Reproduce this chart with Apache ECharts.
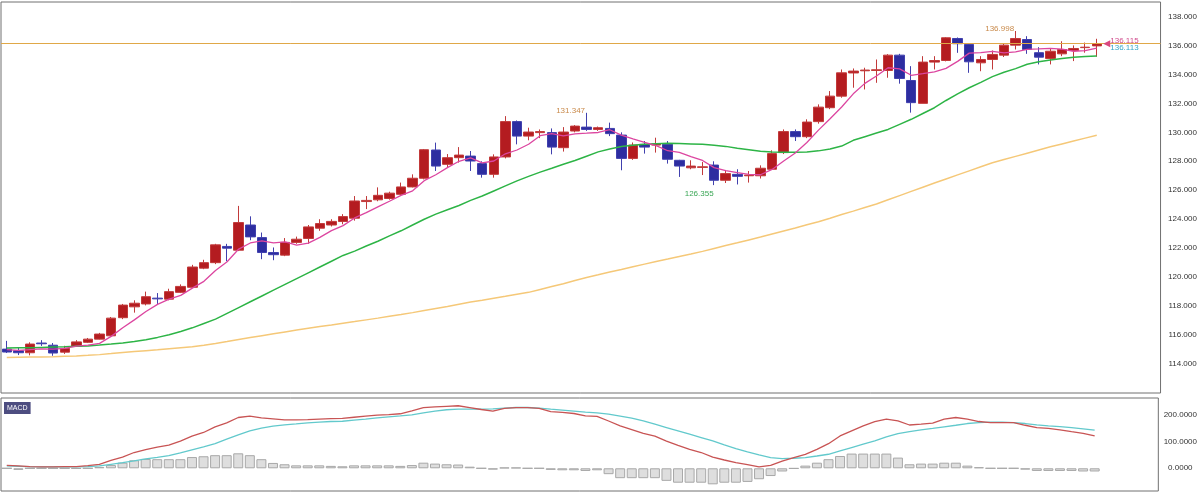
<!DOCTYPE html>
<html><head><meta charset="utf-8">
<script src="https://cdn.jsdelivr.net/npm/echarts@6/dist/echarts.min.js"></script>
<style>html,body{margin:0;padding:0;background:#fff}#c{width:1200px;height:494px}</style>
</head><body><div id="c"></div>
<script>
// ---- data ----
const opens = [115.03,114.92,114.78,115.45,115.30,114.82,115.22,115.50,115.72,115.95,
117.20,117.95,118.15,118.55,118.48,118.95,119.30,120.62,121.00,122.12,
121.86,123.60,122.73,121.70,121.52,122.40,122.67,123.38,123.60,123.84,
124.07,125.22,125.34,125.43,125.72,126.23,126.83,128.78,127.79,128.25,
128.36,127.84,127.10,128.30,130.74,129.74,129.98,129.98,128.94,130.09,
130.36,130.20,130.27,129.81,128.20,129.17,129.12,129.17,128.07,127.55,
127.58,127.74,126.69,127.10,127.00,127.00,127.45,128.60,130.05,129.70,
130.74,131.70,132.50,134.10,134.25,134.27,134.27,135.33,133.58,132.00,
134.85,134.96,136.48,136.07,134.80,135.03,135.33,136.02,136.41,135.50,
135.10,135.42,135.65,135.85,135.97];
const closes = [114.83,114.78,115.38,115.40,114.76,115.08,115.53,115.72,116.07,117.17,
118.07,118.20,118.65,118.50,119.00,119.36,120.70,121.00,122.23,122.00,
123.77,122.78,121.70,121.55,122.40,122.62,123.47,123.70,123.85,124.18,
125.26,125.30,125.65,125.80,126.23,126.83,128.80,127.67,128.25,128.43,
128.02,127.10,128.30,130.74,129.74,130.02,130.05,128.98,130.02,130.43,
130.20,130.32,129.91,128.20,129.12,128.98,129.20,128.14,127.67,127.67,
127.62,126.69,127.15,126.96,127.05,127.52,128.53,130.05,129.70,130.71,
131.74,132.50,134.11,134.23,134.30,134.32,135.33,133.72,132.05,134.85,
134.96,136.53,136.12,134.87,135.03,135.38,136.02,136.48,135.72,135.19,
135.60,135.72,135.79,135.88,136.115];
const highs = [115.60,115.15,115.50,115.65,115.45,115.26,115.65,115.80,116.15,117.25,
118.15,118.40,119.00,118.90,119.20,119.50,120.85,121.20,122.30,122.30,
124.92,124.20,123.08,122.05,122.70,122.80,123.60,124.00,124.00,124.35,
125.60,125.60,126.20,125.90,126.53,127.10,128.85,129.29,128.50,128.98,
128.71,128.00,128.48,131.12,130.82,130.32,130.20,130.27,130.36,130.50,
131.347,130.40,130.67,130.00,129.30,129.40,129.63,129.40,128.10,128.07,
127.95,128.00,127.40,127.45,127.33,127.72,128.76,130.20,130.20,130.90,
131.93,132.85,134.34,134.41,134.46,135.03,135.40,135.42,134.57,135.26,
135.26,136.57,136.55,136.10,135.26,135.65,136.10,136.998,136.64,135.88,
135.82,136.29,136.00,136.20,136.46];
const lows = [114.76,114.62,114.60,115.25,114.57,114.70,115.20,115.45,115.70,115.90,
117.10,117.55,118.05,118.15,118.40,118.90,119.25,120.55,120.90,121.10,
121.80,122.55,121.24,121.17,121.45,122.30,122.30,123.20,123.50,123.65,
123.90,124.70,125.24,125.35,125.65,126.20,126.75,127.33,127.60,127.91,
127.33,126.87,126.87,128.20,129.17,129.45,129.60,128.48,128.67,130.00,
130.10,130.10,129.74,127.38,128.10,128.53,128.60,127.84,126.92,127.45,
127.05,126.355,126.50,126.40,126.53,126.81,127.40,128.50,129.40,129.60,
130.60,131.60,132.39,133.08,132.96,133.42,133.77,133.36,131.36,132.00,
134.34,134.90,135.49,134.11,134.22,134.34,135.20,135.72,135.42,134.69,
134.69,135.26,134.92,135.50,135.22];
const ma5 = [115.00,114.95,115.00,115.05,115.03,115.08,115.23,115.30,115.43,115.91,
116.51,117.05,117.63,118.12,118.48,118.74,119.24,119.71,120.46,121.06,
121.94,122.36,122.50,122.36,122.44,122.21,122.35,122.75,123.21,123.56,
124.09,124.46,124.85,125.24,125.65,125.96,126.66,127.07,127.56,128.00,
128.23,127.89,128.02,128.52,128.78,129.18,129.77,129.91,129.76,129.90,
129.94,129.99,130.18,129.81,129.55,129.31,129.08,128.73,128.62,128.33,
128.06,127.56,127.36,127.22,127.09,127.07,127.44,128.02,128.57,129.30,
130.15,130.94,131.75,132.66,133.38,133.89,134.46,134.38,133.94,134.05,
134.18,134.42,134.90,135.47,135.50,135.59,135.48,135.56,135.73,135.76,
135.80,135.74,135.60,135.64,135.82];
const ma25 = [115.10,115.12,115.13,115.15,115.17,115.19,115.22,115.25,115.31,115.38,
115.46,115.55,115.68,115.84,116.02,116.25,116.50,116.80,117.10,117.50,
117.90,118.30,118.70,119.10,119.50,119.90,120.30,120.70,121.10,121.50,
121.80,122.15,122.48,122.85,123.20,123.60,124.00,124.35,124.65,124.95,
125.30,125.60,125.95,126.30,126.65,126.96,127.25,127.52,127.80,128.05,
128.35,128.65,128.85,129.02,129.10,129.17,129.22,129.24,129.23,129.20,
129.17,129.10,129.03,128.90,128.80,128.70,128.65,128.62,128.62,128.65,
128.72,128.85,129.05,129.45,129.70,129.95,130.20,130.55,130.90,131.30,
131.70,132.20,132.65,133.08,133.45,133.85,134.15,134.40,134.70,134.88,
135.00,135.10,135.18,135.23,135.27];
const ma75 = [114.46,114.47,114.48,114.49,114.50,114.53,114.56,114.60,114.65,114.72,
114.80,114.86,114.92,114.98,115.05,115.12,115.19,115.30,115.42,115.55,
115.70,115.83,115.96,116.09,116.22,116.35,116.47,116.59,116.70,116.82,
116.93,117.05,117.17,117.30,117.42,117.55,117.70,117.84,117.98,118.13,
118.28,118.41,118.55,118.68,118.82,118.95,119.15,119.35,119.55,119.77,
119.98,120.16,120.35,120.53,120.72,120.90,121.08,121.25,121.43,121.60,
121.78,121.98,122.18,122.37,122.57,122.77,122.98,123.19,123.40,123.62,
123.83,124.07,124.32,124.56,124.81,125.05,125.34,125.63,125.92,126.21,
126.50,126.78,127.06,127.34,127.62,127.90,128.12,128.34,128.56,128.78,
129.00,129.20,129.40,129.60,129.80];
const macdLine = [11,9,6,5,5,6,6,10,15,30,
42,59,70,79,87,102,120,134,155,170,
190,195,189,185,181,181,182,184,186,187,
191,195,199,201,204,215,227,230,232,234,
227,220,214,224,227,227,224,212,209,205,
196,194,177,159,145,131,120,102,86,71,
59,42,31,21,14,5,11,27,40,52,
71,92,121,140,159,175,184,177,162,165,
169,184,190,184,175,171,171,171,161,152,
149,144,137,131,121];
const signalLine = [9,7.5,6,5,5,5,5,6,9,15,
21,27.5,35,41,47.5,57.5,69,80,92.5,109,
125,140,150,157.5,162.5,166,170,172.5,175,176,
180,184,189,192.5,196,200,207.5,214,219,221,
221,221,222.5,225,227.5,227.5,225,221,217.5,214,
210,207.5,202.5,195,187.5,177.5,165,152.5,140,127.5,
115,102.5,87.5,74,61,50,40,36,37.5,40,
46,52.5,65,77.5,90,102.5,117.5,130,137.5,144,
149,155,161,167.5,171,172.5,172.5,171,167.5,162.5,
159,156,152.5,147.5,142.5];
const histogram = [0,-6,0,0,0,0,-1,0,5,12,
21,30,35,34,34,34,42,45,49,49,
56,49,34,20,15,11,11,11,9,7.5,
11,11,11,11,9,12,21,17.5,15,14,
6,0,-5,2.5,2.5,0,0,-6,-7.5,-7.5,
-10,-7.5,-22,-37,-37,-37,-37,-47,-54,-54,
-54,-60,-54,-54,-51,-41,-29,-12,-1,10,
21,34,46,55,55,55,55,40,15,17.5,
17.5,21,21,10,4,0,0,0,-5,-10,
-10,-10,-10,-12,-12];
const priceTicks = [114,116,118,120,122,124,126,128,130,132,134,136,138];
const macdTicks = [0,100,200];
const askPrice = 136.115, bidPrice = 136.113;
const highMarks = [50, 87];   // candle indices with labelled highs
const lowMarks = [61];        // candle indices with labelled lows
const emptySlots = 5;         // blank space to the right of the last candle

// ---- build ----
const n = closes.length;
const categories = [];
for (let i = 0; i < n + emptySlots; i++) categories.push(String(i + 1));
const candles = opens.map((o, i) => [o, closes[i], lows[i], highs[i]]);
const FF = "'Liberation Sans', Arial, sans-serif";
const LEVEL_COLOR = '#e0a848';

const marks = [];
highMarks.forEach(i => marks.push({coord: [i, highs[i]], value: highs[i].toFixed(3),
  label: {position: 'left', distance: 1, offset: [0, -2], color: '#c98a4b'}}));
lowMarks.forEach(i => marks.push({coord: [i, lows[i]], value: lows[i].toFixed(3),
  label: {position: 'left', distance: 0, offset: [0, 9], color: '#3aa655'}}));
marks.push({coord: [n - 1, askPrice], value: askPrice.toFixed(3),
  label: {position: 'right', distance: 13, offset: [0, -3], color: '#d04a8c'}});
marks.push({coord: [n - 1, bidPrice], value: bidPrice.toFixed(3),
  label: {position: 'right', distance: 13, offset: [0, 4], color: '#35a6c8'}});
marks.push({coord: [n - 1, askPrice], symbol: 'triangle', symbolSize: [7, 7], symbolRotate: 90,
  symbolOffset: [10, 0], itemStyle: {color: '#d9477f'}, label: {show: false}});

const chart = echarts.init(document.getElementById('c'));
chart.setOption({
  animation: false,
  backgroundColor: '#fff',
  textStyle: {fontFamily: FF},
  title: {text: 'MACD', left: 4, top: 402, padding: [2, 3, 2, 3], backgroundColor: '#4d4d80',
    textStyle: {color: '#fff', fontSize: 7, fontWeight: 'normal', fontFamily: FF, lineHeight: 8}},
  grid: [
    {left: 1, right: 30, top: 2, height: 391, show: true, borderColor: '#707070', borderWidth: 1},
    {left: 1, right: 30, top: 398, height: 93, show: true, borderColor: '#707070', borderWidth: 1}
  ],
  xAxis: [0, 1].map(g => ({type: 'category', gridIndex: g, data: categories, boundaryGap: true,
    axisLine: {show: false}, axisTick: {show: false}, axisLabel: {show: false}, splitLine: {show: false}})),
  yAxis: [
    {gridIndex: 0, position: 'right', min: 112, max: 139, scale: true,
      axisLine: {show: false}, axisTick: {show: false}, splitLine: {show: false},
      axisLabel: {customValues: priceTicks, formatter: v => v.toFixed(3), align: 'center', margin: 22,
        fontSize: 8, color: '#333', fontFamily: FF}},
    {gridIndex: 1, position: 'right', min: -85, max: 263,
      axisLine: {show: false}, axisTick: {show: false}, splitLine: {show: false},
      axisLabel: {customValues: macdTicks, formatter: v => v.toFixed(4), align: 'center', margin: 22,
        fontSize: 8, color: '#333', fontFamily: FF}}
  ],
  series: [
    {type: 'line', xAxisIndex: 0, yAxisIndex: 0, data: ma75, symbol: 'none', z: 1,
      lineStyle: {color: '#f5c878', width: 1.5},
      markLine: {silent: true, symbol: ['none', 'none'], label: {show: false}, animation: false,
        lineStyle: {color: LEVEL_COLOR, width: 1, type: 'solid', opacity: 1},
        data: [{yAxis: askPrice}]}},
    {type: 'candlestick', xAxisIndex: 0, yAxisIndex: 0, data: candles, barWidth: 10, z: 2,
      itemStyle: {color: '#b41c20', color0: '#2d2da0', borderColor: '#c23a3a', borderColor0: '#4040ae', borderWidth: 1},
      markPoint: {silent: true, symbol: 'circle', symbolSize: 1, itemStyle: {color: 'rgba(0,0,0,0)'},
        label: {show: true, formatter: '{c}', fontSize: 8, fontFamily: FF}, data: marks}},
    {type: 'line', xAxisIndex: 0, yAxisIndex: 0, data: ma25, symbol: 'none', z: 3, lineStyle: {color: '#2db446', width: 1.5}},
    {type: 'line', xAxisIndex: 0, yAxisIndex: 0, data: ma5, symbol: 'none', z: 3, lineStyle: {color: '#dc46a0', width: 1.3}},
    {type: 'bar', xAxisIndex: 1, yAxisIndex: 1, data: histogram, barWidth: 10,
      itemStyle: {color: '#dedede', borderColor: '#a8a8a8', borderWidth: 1}},
    {type: 'line', xAxisIndex: 1, yAxisIndex: 1, data: signalLine, symbol: 'none', lineStyle: {color: '#62c9cc', width: 1.3}},
    {type: 'line', xAxisIndex: 1, yAxisIndex: 1, data: macdLine, symbol: 'none', lineStyle: {color: '#c85454', width: 1.3}}
  ]
});
</script></body></html>
